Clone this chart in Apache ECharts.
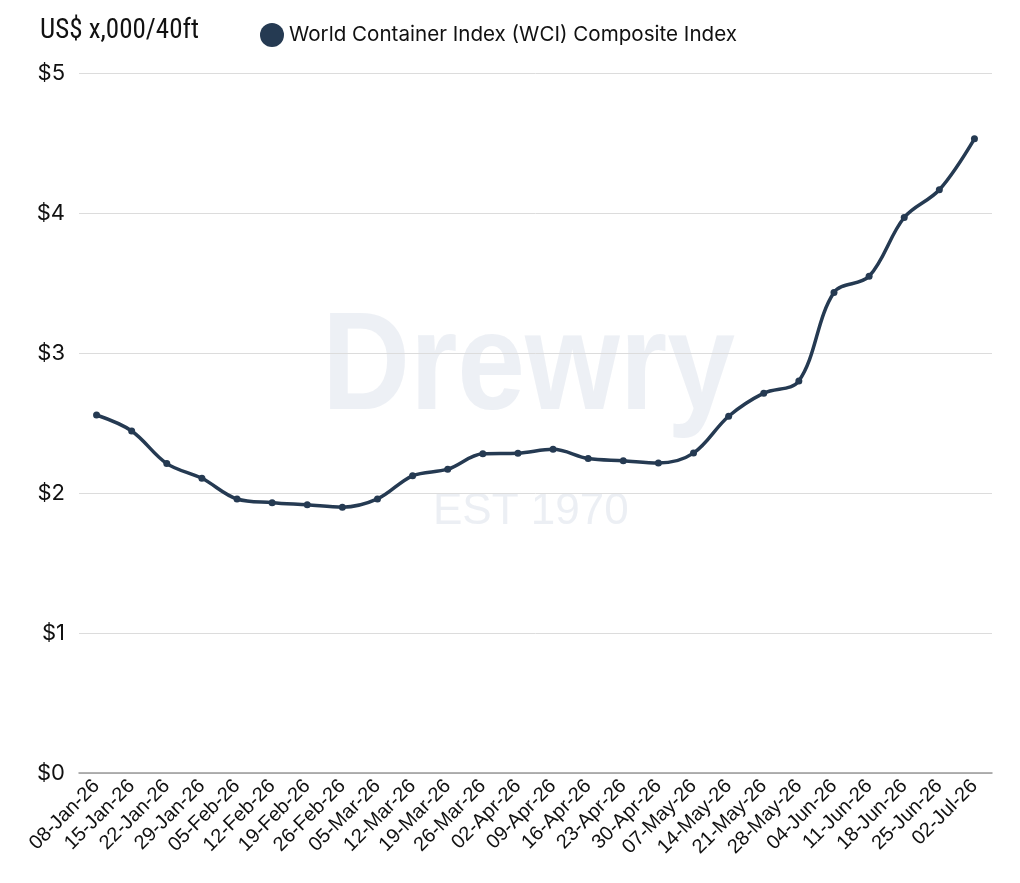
<!DOCTYPE html>
<html><head><meta charset="utf-8">
<script src="https://cdn.jsdelivr.net/npm/echarts@6/dist/echarts.min.js"></script>
<style>html,body{margin:0;padding:0;background:#fff}#c{width:1020px;height:883px}</style>
</head><body><div id="c"></div>
<script>
const categories = ['08-Jan-26','15-Jan-26','22-Jan-26','29-Jan-26','05-Feb-26','12-Feb-26','19-Feb-26','26-Feb-26','05-Mar-26','12-Mar-26','19-Mar-26','26-Mar-26','02-Apr-26','09-Apr-26','16-Apr-26','23-Apr-26','30-Apr-26','07-May-26','14-May-26','21-May-26','28-May-26','04-Jun-26','11-Jun-26','18-Jun-26','25-Jun-26','02-Jul-26'];
const wciValues = [2.557,2.443,2.210,2.105,1.957,1.931,1.916,1.899,1.958,2.123,2.170,2.280,2.284,2.312,2.246,2.231,2.214,2.285,2.548,2.713,2.800,3.432,3.548,3.968,4.166,4.530];
const yTicks = [0,1,2,3,4,5];
const seriesName = 'World Container Index (WCI) Composite Index';
const unitLabel = 'US$ x,000/40ft';

const chart = echarts.init(document.getElementById('c'));
const font = 'Inter, "Noto Sans", sans-serif';
chart.setOption({
  animation: false,
  backgroundColor: '#fff',
  graphic: [
    {type:'text', top: 300, left: 322, scaleX: 0.87, z: 0, style:{text:'Drewry', fill:'rgba(220,226,235,0.5)', font:'bold 140px "Liberation Sans", Arial, sans-serif'}},
    {type:'text', top: 490, left: 433, z: 0, style:{text:'EST 1970', fill:'rgba(220,226,235,0.55)', font:'44px "Liberation Sans", Arial, sans-serif'}}
  ],
  title: {
    text: unitLabel, left: 35, top: 13,
    textStyle: {fontFamily: '"Liberation Sans Narrow", "Roboto Condensed", Roboto, sans-serif', fontSize: 27, fontWeight: 'normal', color: '#111'}
  },
  legend: {
    left: 255, top: 18, icon: 'circle', itemWidth: 24, itemHeight: 24, itemGap: 13,
    textStyle: {fontFamily: font, fontSize: 20.6, color: '#111'},
    data: [seriesName]
  },
  grid: {left: 79, right: 28, top: 73, bottom: 110, containLabel: false},
  xAxis: {
    type: 'category', data: categories, boundaryGap: true,
    axisLine: {lineStyle: {color: '#999', width: 1.5}},
    axisTick: {show: false},
    axisLabel: {rotate: 45, interval: 0, fontFamily: '"Liberation Sans", Arial, sans-serif', fontSize: 20, color: '#111', margin: 10}
  },
  yAxis: {
    type: 'value', min: yTicks[0], max: yTicks[yTicks.length-1], interval: 1,
    axisLine: {show: false}, axisTick: {show: false},
    splitLine: {lineStyle: {color: '#dcdcdc', width: 1}},
    axisLabel: {formatter: v => '$' + v, fontFamily: font, fontSize: 22, color: '#111', margin: 14}
  },
  series: [{
    name: seriesName, type: 'line', data: wciValues, smooth: 0.35,
    symbol: 'circle', symbolSize: 7,
    itemStyle: {color: '#253a52'},
    lineStyle: {color: '#253a52', width: 3.5}
  }]
});
</script></body></html>
